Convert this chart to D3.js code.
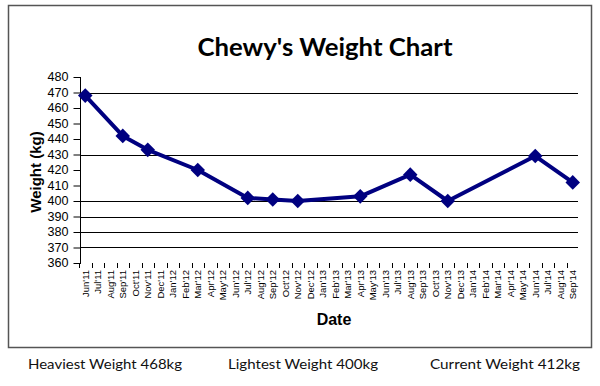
<!DOCTYPE html>
<html><head><meta charset="utf-8">
<script src="https://cdn.jsdelivr.net/npm/d3@7"></script>
<style>body{margin:0;background:#fff}svg{display:block}</style>
</head><body>
<svg id="c" width="600" height="386"></svg>
<script>
const months = ["Jun'11","Jul'11","Aug'11","Sep'11","Oct'11","Nov'11","Dec'11","Jan'12","Feb'12","Mar'12","Apr'12","May'12","Jun'12","Jul'12","Aug'12","Sep'12","Oct'12","Nov'12","Dec'12","Jan'13","Feb'13","Mar'13","Apr'13","May'13","Jun'13","Jul'13","Aug'13","Sep'13","Oct'13","Nov'13","Dec'13","Jan'14","Feb'14","Mar'14","Apr'14","May'14","Jun'14","Jul'14","Aug'14","Sep'14"];
const weighDates = ["Jun'11","Sep'11","Nov'11","Mar'12","Jul'12","Sep'12","Nov'12","Apr'13","Aug'13","Nov'13","Jun'14","Sep'14"];
const weights = [468,442,433,420,402,401,400,403,417,400,429,412];
const yTicks = [360,370,380,390,400,410,420,430,440,450,460,470,480];
const gridValues = [370,380,390,400,430,470];
const footer = ["Heaviest Weight 468kg","Lightest Weight 400kg","Current Weight 412kg"];

const svg = d3.select("#c");
const x = d3.scaleBand().domain(months).range([79,579]);
const y = d3.scaleLinear().domain([360,480]).range([263,77]);

// border
svg.append("rect").attr("x",8.5).attr("y",5.5).attr("width",583).attr("height",342)
  .attr("fill","#fff").attr("stroke","#555").attr("stroke-width",1.5);

// title
svg.append("text").attr("x",325).attr("y",56).attr("text-anchor","middle")
  .attr("font-family","Lato, 'Open Sans', sans-serif").attr("font-weight","bold")
  .attr("font-size",25).attr("textLength",255).attr("lengthAdjust","spacingAndGlyphs")
  .attr("fill","#000").text("Chewy's Weight Chart");

// gridlines
svg.append("g").selectAll("line").data(gridValues).join("line")
  .attr("x1",80).attr("x2",578).attr("y1",d=>Math.round(y(d))+0.5).attr("y2",d=>Math.round(y(d))+0.5)
  .attr("stroke","#000").attr("stroke-width",1);

// y axis
const yAxis = d3.axisLeft(y).tickValues(yTicks).tickSize(7).tickPadding(5).tickFormat(d3.format("d"));
const gy = svg.append("g").attr("transform","translate(80.5,0)").call(yAxis);
gy.select(".domain").attr("stroke","#000").attr("d","M0,77V264");
gy.selectAll(".tick line").attr("stroke","#000");
gy.selectAll("text").attr("font-family","'Liberation Sans', Arial, sans-serif").attr("font-size",12)
  .attr("fill","#000").attr("textLength",21).attr("lengthAdjust","spacingAndGlyphs");

// x axis (category labels)
const xAxis = d3.axisBottom(x).tickSize(0).tickPadding(0);
const gx = svg.append("g").attr("transform","translate(0,263)").call(xAxis);
gx.select(".domain").remove();
gx.selectAll(".tick text")
  .attr("font-family","'Liberation Sans', Arial, sans-serif").attr("font-size",9.5).attr("fill","#000")
  .attr("transform","rotate(-90)").attr("text-anchor","end").attr("x",-7).attr("y",0).attr("dy","0.35em");
// x ticks between categories
svg.append("g").selectAll("line").data(months).join("line")
  .attr("x1",d=>Math.round(x(d))+0.5).attr("x2",d=>Math.round(x(d))+0.5)
  .attr("y1",263).attr("y2",268).attr("stroke","#000");

// axis titles
svg.append("text").attr("transform","translate(41,172) rotate(-90)").attr("text-anchor","middle")
  .attr("font-family","'Liberation Sans', Arial, sans-serif").attr("font-weight","bold").attr("font-size",15)
  .attr("fill","#000").text("Weight (kg)");
svg.append("text").attr("x",334).attr("y",325).attr("text-anchor","middle")
  .attr("font-family","'Liberation Sans', Arial, sans-serif").attr("font-weight","bold").attr("font-size",16)
  .attr("fill","#000").text("Date");

// line
const pts = weighDates.map((d,i)=>({d, v:weights[i]}));
const line = d3.line().x(p=>x(p.d)+x.bandwidth()/2).y(p=>y(p.v));
svg.append("path").datum(pts).attr("d",line).attr("fill","none")
  .attr("stroke","#000080").attr("stroke-width",4).attr("stroke-linejoin","round");
svg.append("g").selectAll("path").data(pts).join("path")
  .attr("d",d3.symbol(d3.symbolDiamond2, 135))
  .attr("transform",p=>`translate(${x(p.d)+x.bandwidth()/2},${y(p.v)})`)
  .attr("fill","#000080");

// footer
const fx = [28,228,430], fw=[154,150,150];
svg.append("g").selectAll("text").data(footer).join("text")
  .attr("x",(d,i)=>fx[i]).attr("y",369).attr("textLength",(d,i)=>fw[i]).attr("lengthAdjust","spacingAndGlyphs")
  .attr("font-family","Lato, 'Open Sans', sans-serif").attr("font-size",14).attr("fill","#111").text(d=>d);
</script>
</body></html>
